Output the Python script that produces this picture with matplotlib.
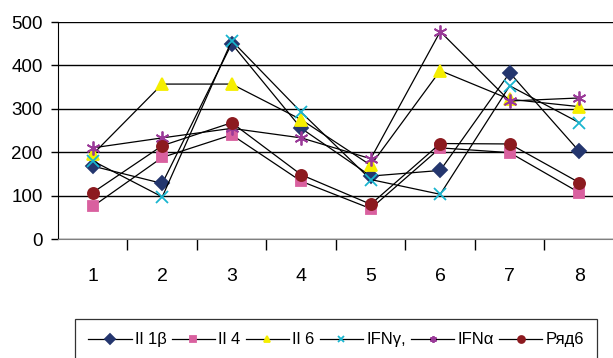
import matplotlib
matplotlib.use("Agg")
import matplotlib.pyplot as plt
from matplotlib.ticker import FixedLocator

plt.rcParams['font.family'] = ['Liberation Sans', 'DejaVu Sans']

categories = ["1", "2", "3", "4", "5", "6", "7", "8"]
il1b = [168, 128, 450, 255, 145, 158, 383, 202]
il4 = [75, 188, 240, 133, 70, 210, 199, 107]
il6 = [195, 357, 357, 275, 170, 388, 322, 305]
ifng = [180, 97, 457, 292, 137, 103, 353, 268]
ifna = [210, 233, 255, 233, 185, 478, 318, 325]
row6 = [107, 215, 268, 148, 80, 220, 219, 130]

series = [
    ("Il 1β", il1b, "D", "#24366e", 7),
    ("Il 4", il4, "s", "#d9609f", 7),
    ("Il 6", il6, "^", "#f5ee00", 9),
    ("IFNγ,", ifng, "x", "#19b5cf", 8),
    ("IFNα", ifna, (6, 2, 0), "#9a3a98", 10),
    ("Ряд6", row6, "o", "#8c1a1f", 8),
]

fig = plt.figure(figsize=(6.13, 3.58), dpi=100)
ax = fig.add_axes([0.0946, 0.3324, 0.907, 0.6061])

x = list(range(1, len(categories) + 1))
for label, vals, marker, color, ms in series:
    ax.plot(x, vals, color="black", linewidth=0.9, marker=marker,
            markersize=ms, markerfacecolor=color, markeredgecolor=color,
            markeredgewidth=1.3, label=label, zorder=3)

ax.set_ylim(0, 500)
ax.set_xlim(0.5, 8.5)
ax.set_yticks([0, 100, 200, 300, 400, 500])
ax.yaxis.grid(True, color="black", linewidth=1.0)
ax.set_axisbelow(True)

ax.set_xticks(x)
ax.set_xticklabels(categories)
ax.xaxis.set_minor_locator(FixedLocator([1.5 + i for i in range(8)]))
ax.tick_params(axis="x", which="major", length=0, pad=21, labelsize=14)
ax.tick_params(axis="x", which="minor", length=8, width=1.0, color="black")
ax.tick_params(axis="y", length=5, width=1.0, labelsize=13.5, pad=6)

for side in ("top", "right"):
    ax.spines[side].set_visible(False)
ax.spines["left"].set_color("black")
ax.spines["bottom"].set_color("#808080")

leg = fig.legend(loc="upper left",
                 bbox_to_anchor=(75 / 613, 1 - 319 / 358),
                 ncol=6, frameon=True, fancybox=False, edgecolor="black",
                 fontsize=12, handlelength=2.6, handletextpad=0.2,
                 columnspacing=0.3, borderpad=0.8, borderaxespad=0.0)
leg.get_frame().set_linewidth(0.9)
for h in leg.legend_handles:
    h.set_markersize(5)

fig.savefig("out.png", dpi=100)
